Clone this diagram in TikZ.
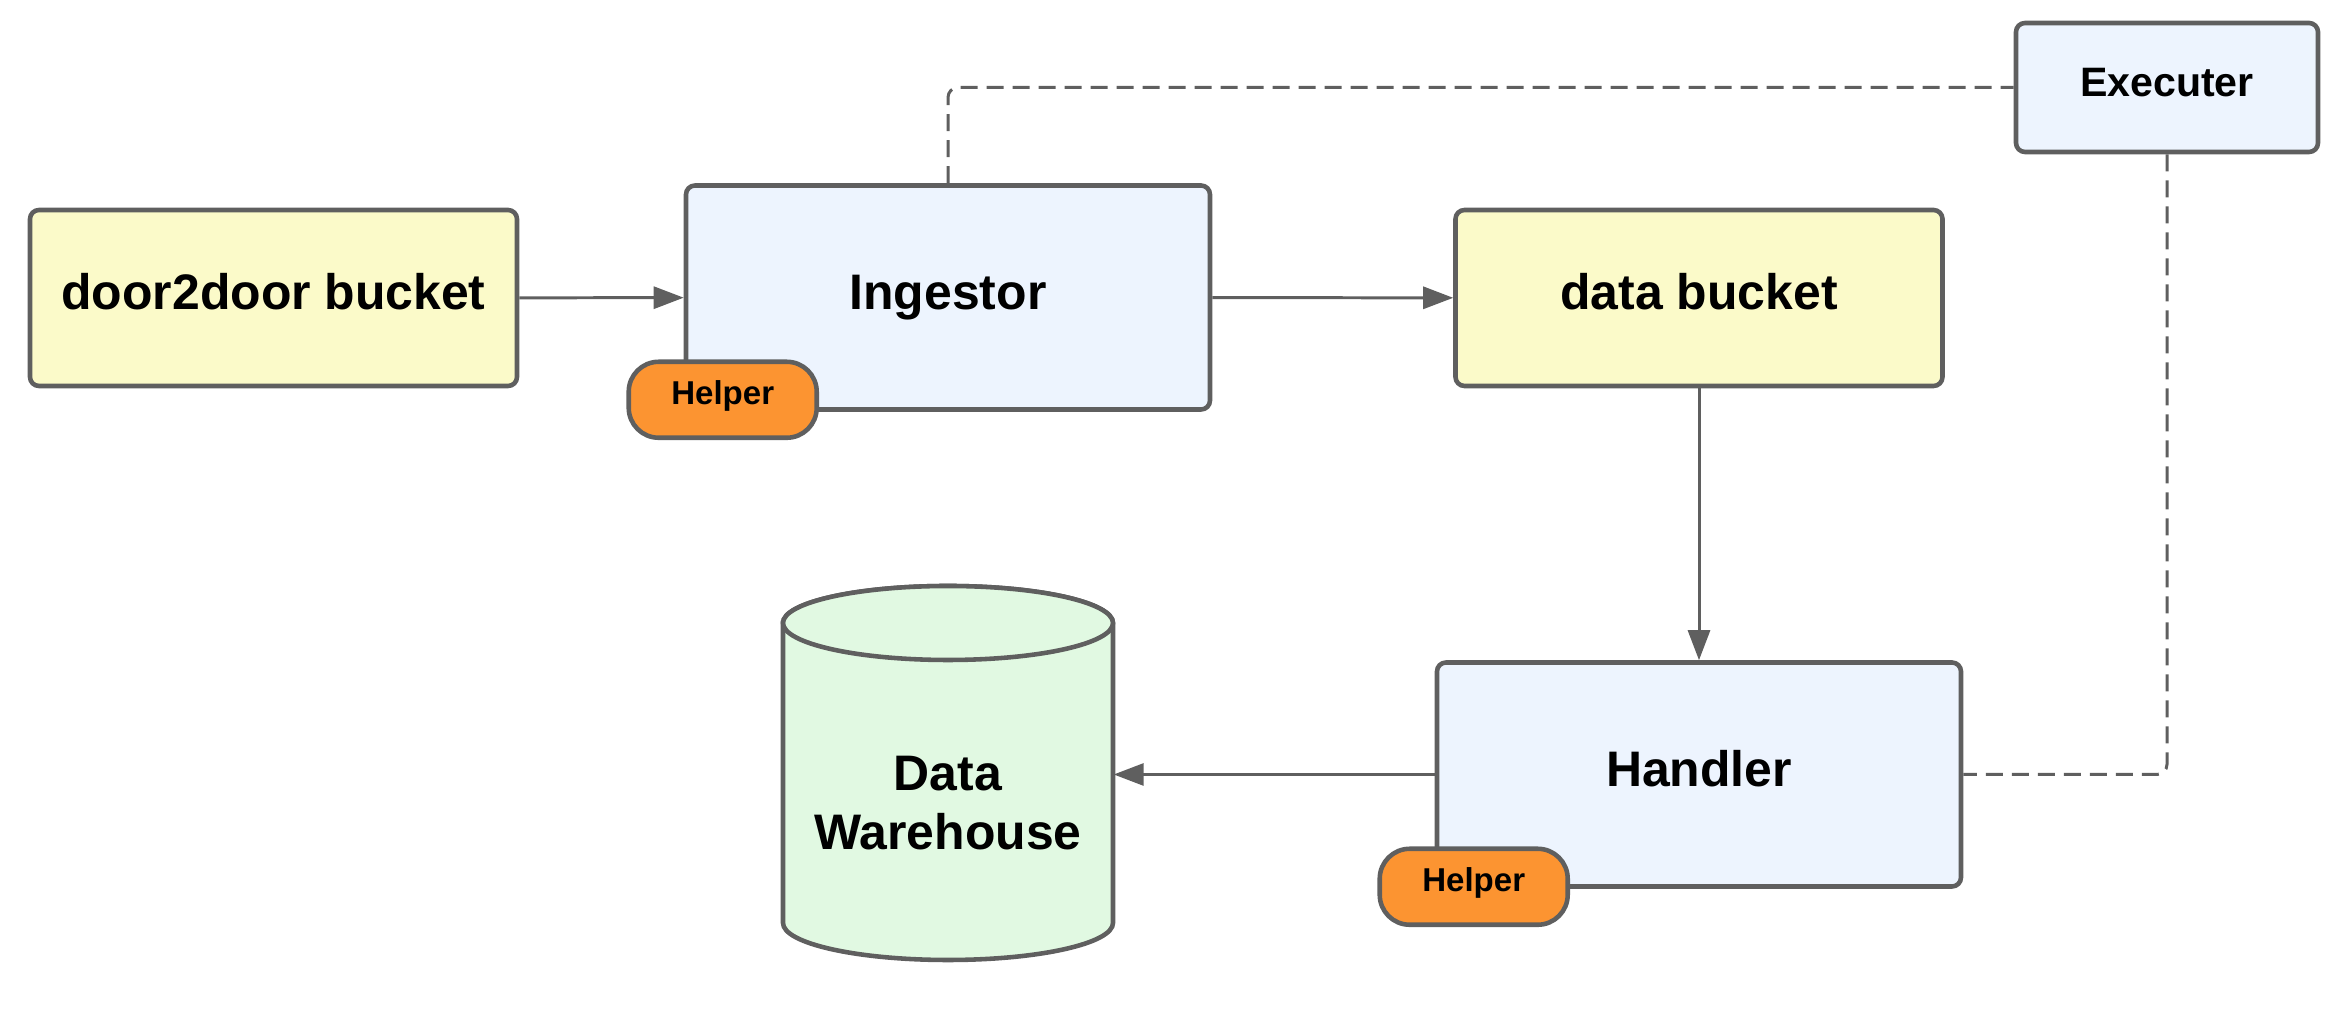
\documentclass[tikz,border=0pt]{standalone}
\usepackage{fontspec}
\setmainfont{Liberation Sans}
\usetikzlibrary{arrows.meta}

\definecolor{edgegray}{HTML}{5F5F5F}
\definecolor{bucketfill}{HTML}{FBFAC9}
\definecolor{servicefill}{HTML}{EDF4FE}
\definecolor{helperfill}{HTML}{FC9431}
\definecolor{storefill}{HTML}{E1F9E2}

\tikzset{
  box/.style = {draw = edgegray, line width = 1.3pt, rounded corners = 0.09cm,
                font = \fontsize{14.2}{16.8}\selectfont\bfseries, inner sep = 0pt,
                text height = 0.24cm, text depth = 0pt},
  bucket/.style = {box, fill = bucketfill, minimum width = 4.87cm, minimum height = 1.76cm},
  service/.style = {box, fill = servicefill, minimum width = 5.24cm, minimum height = 2.24cm},
  helper/.style = {draw = edgegray, line width = 1.3pt, fill = helperfill, rounded corners = 0.3cm,
                   minimum width = 1.88cm, minimum height = 0.76cm, inner sep = 0pt,
                   font = \fontsize{9.4}{11}\selectfont\bfseries, text height = 0.1cm, text depth = 0pt},
  link/.style = {draw = edgegray, line width = 0.85pt, ->},
  trigger/.style = {draw = edgegray, line width = 0.85pt, dash pattern = on 0.17cm off 0.09cm,
                    rounded corners = 0.1cm},
  store/.style = {draw = edgegray, line width = 1.3pt, fill = storefill}
}

\begin{document}
\begin{tikzpicture}[>={Triangle[length = 0.3cm, width = 0.22cm]}]
    \useasboundingbox (0, 0) rectangle (23.49, 10.11);

    \node (door) [bucket] at (2.735, 7.13) {door2door bucket};
    \node (ingestor) [service] at (9.48, 7.135) {Ingestor};
    \node (data) [bucket] at (16.99, 7.13) {data bucket};
    \node (handler) [service] at (16.99, 2.365) {Handler};
    \node (executer) [box, fill = servicefill, minimum width = 3.02cm, minimum height = 1.29cm,
                      font = \fontsize{11.7}{14}\selectfont\bfseries, text height = 0.18cm] at (21.67, 9.235) {Executer};

    \node (helpA) [helper] at ([xshift = 0.39cm, yshift = 0.12cm] ingestor.south west) {Helper};
    \node (helpB) [helper] at ([xshift = 0.39cm, yshift = 0.02cm] handler.south west) {Helper};

    % warehouse cylinder
    \pgfmathsetmacro{\xw}{9.48};
    \pgfmathsetmacro{\yt}{3.88};
    \pgfmathsetmacro{\yb}{0.88};
    \draw [store] (\xw - 1.65, \yt) -- (\xw - 1.65, \yb)
        arc [start angle = 180, end angle = 360, x radius = 1.65, y radius = 0.37]
        -- (\xw + 1.65, \yt)
        arc [start angle = 0, end angle = 180, x radius = 1.65, y radius = 0.37] -- cycle;
    \draw [store] (\xw, \yt) ellipse [x radius = 1.65, y radius = 0.37];
    \node (dw) [font = \fontsize{14.2}{16.8}\selectfont\bfseries, align = center,
                minimum width = 3.3cm, inner sep = 0pt] at (\xw, 2.08) {Data\\Warehouse};

    \draw [link] (door) -- (ingestor);
    \draw [link] (ingestor) -- (data);
    \draw [link] (data) -- (handler);
    \draw [link] (handler.west) -- (handler.west -| dw.east);

    \draw [trigger] (ingestor.north) |- (executer.west);
    \draw [trigger] (executer.south) |- (handler.east);

\end{tikzpicture}
\end{document}
